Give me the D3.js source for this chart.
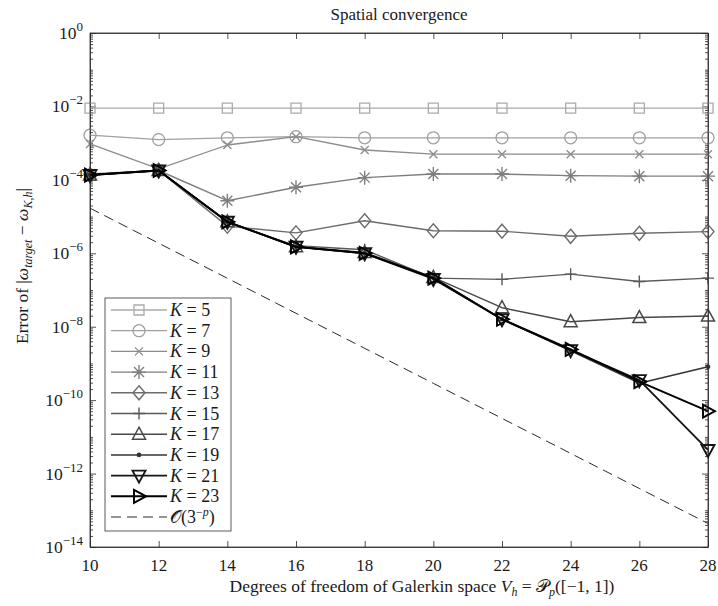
<!DOCTYPE html>
<html><head><meta charset="utf-8">
<script src="https://cdn.jsdelivr.net/npm/d3@7"></script>
<style>
body{margin:0;background:#fff}
text{font-family:"Liberation Serif","DejaVu Serif",serif;fill:#1a1a1a}
</style>
</head><body>
<svg id="c" width="718" height="606"></svg>
<script>
// ---- data ----
const dof = [10, 12, 14, 16, 18, 20, 22, 24, 26, 28];
const xTicks = [10, 12, 14, 16, 18, 20, 22, 24, 26, 28];
const yExponents = [0, -2, -4, -6, -8, -10, -12, -14];
const K5  = [9.0e-3, 9.0e-3, 9.0e-3, 9.0e-3, 9.0e-3, 9.0e-3, 9.0e-3, 9.0e-3, 9.0e-3, 9.0e-3];
const K7  = [1.65e-3, 1.25e-3, 1.4e-3, 1.5e-3, 1.4e-3, 1.4e-3, 1.4e-3, 1.4e-3, 1.4e-3, 1.4e-3];
const K9  = [9.5e-4, 2.0e-4, 8.9e-4, 1.5e-3, 6.5e-4, 5.0e-4, 5.0e-4, 5.0e-4, 5.0e-4, 5.0e-4];
const K11 = [1.45e-4, 1.8e-4, 2.7e-5, 6.3e-5, 1.15e-4, 1.44e-4, 1.44e-4, 1.3e-4, 1.26e-4, 1.26e-4];
const K13 = [1.35e-4, 1.8e-4, 5.5e-6, 3.6e-6, 7.7e-6, 4.1e-6, 4.0e-6, 2.9e-6, 3.5e-6, 3.9e-6];
const K15 = [1.35e-4, 1.8e-4, 7.2e-6, 1.6e-6, 1.25e-6, 2.1e-7, 1.95e-7, 2.7e-7, 1.7e-7, 2.1e-7];
const K17 = [1.35e-4, 1.8e-4, 7.2e-6, 1.5e-6, 1.05e-6, 2.2e-7, 3.3e-8, 1.37e-8, 1.77e-8, 1.95e-8];
const K19 = [1.35e-4, 1.8e-4, 7.2e-6, 1.5e-6, 1.0e-6, 2.2e-7, 1.6e-8, 2.2e-9, 2.9e-10, 8.1e-10];
const K21 = [1.35e-4, 1.8e-4, 7.2e-6, 1.5e-6, 1.0e-6, 2.0e-7, 1.6e-8, 2.3e-9, 3.5e-10, 4.4e-12];
const K23 = [1.35e-4, 1.8e-4, 7.2e-6, 1.5e-6, 1.0e-6, 2.1e-7, 1.6e-8, 2.4e-9, 3.2e-10, 5.0e-11];
const refRate = [1.69e-5, 1.88e-6, 2.09e-7, 2.32e-8, 2.58e-9, 2.87e-10, 3.19e-11, 3.54e-12, 3.93e-13, 4.37e-14];
const seriesLabels = ["5", "7", "9", "11", "13", "15", "17", "19", "21", "23"];

// ---- styles ----
const series = [
  {k: seriesLabels[0], v: K5,  c: "#aaaaaa", w: 1.3, m: "square"},
  {k: seriesLabels[1], v: K7,  c: "#a0a0a0", w: 1.3, m: "circle"},
  {k: seriesLabels[2], v: K9,  c: "#8c8c8c", w: 1.3, m: "x"},
  {k: seriesLabels[3], v: K11, c: "#7e7e7e", w: 1.4, m: "asterisk"},
  {k: seriesLabels[4], v: K13, c: "#6c6c6c", w: 1.4, m: "diamond"},
  {k: seriesLabels[5], v: K15, c: "#5a5a5a", w: 1.4, m: "plus"},
  {k: seriesLabels[6], v: K17, c: "#484848", w: 1.5, m: "triUp"},
  {k: seriesLabels[7], v: K19, c: "#333333", w: 1.5, m: "point"},
  {k: seriesLabels[8], v: K21, c: "#161616", w: 1.9, m: "triDown"},
  {k: seriesLabels[9], v: K23, c: "#000000", w: 1.9, m: "triRight"}
];

function markerPath(m) {
  switch (m) {
    case "square": return "M-5,-5H5V5H-5Z";
    case "circle": return "M6,0A6,6 0 1,1 -6,0A6,6 0 1,1 6,0Z";
    case "x": return "M-4,-4L4,4M-4,4L4,-4";
    case "asterisk": return "M-7,0H7M0,-7V7M-5,-5L5,5M-5,5L5,-5";
    case "diamond": return "M0,-7L6,0L0,7L-6,0Z";
    case "plus": return "M-6,0H6M0,-6V6";
    case "triUp": return "M0,-7L6.5,5H-6.5Z";
    case "point": return "M1.6,0A1.6,1.6 0 1,1 -1.6,0A1.6,1.6 0 1,1 1.6,0Z";
    case "triDown": return "M0,7L6.5,-5H-6.5Z";
    case "triRight": return "M7,0L-5,6.5V-6.5Z";
  }
}

const svg = d3.select("#c");
const L = 90, R = 708, T = 33, B = 547;
const x = d3.scaleLinear().domain([10, 28]).range([L, R]);
const y = d3.scaleLog().domain([1e-14, 1]).range([B, T]);
const axisColor = "#262626";

// minor ticks
const majors = yExponents.map(e => Math.pow(10, e));
const minors = [];
for (let e = -14; e < 0; e++) for (let k = 1; k <= 9; k++) {
  if (k === 1 && e % 2 === 0) continue;
  minors.push(k * Math.pow(10, e));
}

function styleAxis(g) {
  g.selectAll("path,line").attr("stroke", axisColor).attr("stroke-width", 0.8);
  g.selectAll("text").remove();
}
svg.append("g").attr("transform", `translate(0,${B})`)
  .call(d3.axisBottom(x).tickValues(xTicks).tickSizeInner(-6).tickSizeOuter(0)).call(styleAxis);
svg.append("g").attr("transform", `translate(0,${T})`)
  .call(d3.axisTop(x).tickValues(xTicks).tickSizeInner(-6).tickSizeOuter(0)).call(styleAxis);
svg.append("g").attr("transform", `translate(${L},0)`)
  .call(d3.axisLeft(y).tickValues(majors).tickSizeInner(-6).tickSizeOuter(0)).call(styleAxis);
svg.append("g").attr("transform", `translate(${R},0)`)
  .call(d3.axisRight(y).tickValues(majors).tickSizeInner(-6).tickSizeOuter(0)).call(styleAxis);
svg.append("g").attr("transform", `translate(${L},0)`)
  .call(d3.axisLeft(y).tickValues(minors).tickSizeInner(-3).tickSizeOuter(0)).call(styleAxis)
  .select(".domain").remove();
svg.append("g").attr("transform", `translate(${R},0)`)
  .call(d3.axisRight(y).tickValues(minors).tickSizeInner(-3).tickSizeOuter(0)).call(styleAxis)
  .select(".domain").remove();

// tick labels
svg.append("g").selectAll("text").data(xTicks).join("text")
  .attr("x", d => x(d)).attr("y", B + 24).attr("text-anchor", "middle")
  .attr("font-size", 17).text(d => d);
const yl = svg.append("g").selectAll("text").data(yExponents).join("text")
  .attr("x", L - 7).attr("y", d => y(Math.pow(10, d)) + 6).attr("text-anchor", "end")
  .attr("font-size", 17.5);
yl.append("tspan").text("10");
yl.append("tspan").attr("dy", -8).attr("font-size", 13).text(d => d === 0 ? "0" : "\u2212" + (-d));

// lines
const line = d3.line().x((d, i) => x(dof[i])).y(d => y(d));
svg.append("path").datum(refRate).attr("d", line).attr("fill", "none")
  .attr("stroke", "#111").attr("stroke-width", 0.9).attr("stroke-dasharray", "10,6");
series.forEach(s => {
  const g = svg.append("g");
  g.append("path").datum(s.v).attr("d", line).attr("fill", "none")
    .attr("stroke", s.c).attr("stroke-width", s.w).attr("stroke-linejoin", "round");
  g.selectAll("path.m").data(s.v).join("path").attr("class", "m")
    .attr("transform", (d, i) => `translate(${x(dof[i])},${y(d)})`)
    .attr("d", markerPath(s.m))
    .attr("fill", s.m === "point" ? s.c : "none")
    .attr("stroke", s.c).attr("stroke-width", s.w);
});

// box border on top
svg.append("rect").attr("x", L).attr("y", T).attr("width", R - L).attr("height", B - T)
  .attr("fill", "none").attr("stroke", axisColor).attr("stroke-width", 0.8);

// title & labels
svg.append("text").attr("x", (L + R) / 2).attr("y", 20).attr("text-anchor", "middle")
  .attr("font-size", 17).text("Spatial convergence");
const xl = svg.append("text").attr("x", 422).attr("y", 592).attr("text-anchor", "middle").attr("font-size", 17.5);
xl.append("tspan").text("Degrees of freedom of Galerkin space ");
xl.append("tspan").attr("font-style", "italic").text("V");
xl.append("tspan").attr("font-style", "italic").attr("font-size", 12).attr("dy", 4).text("h");
xl.append("tspan").attr("dy", -4).text(" = ");
xl.append("tspan").text("\u{1D4AB}");
xl.append("tspan").attr("font-style", "italic").attr("font-size", 12).attr("dy", 4).text("p");
xl.append("tspan").attr("dy", -4).text("([\u22121, 1])");

const ylab = svg.append("text").attr("transform", `translate(28,266) rotate(-90)`)
  .attr("text-anchor", "middle").attr("font-size", 17.5);
ylab.append("tspan").text("Error of |");
ylab.append("tspan").attr("font-style", "italic").text("\u03C9");
ylab.append("tspan").attr("font-style", "italic").attr("font-size", 12).attr("dy", 4).text("target");
ylab.append("tspan").attr("dy", -4).text(" \u2212 ");
ylab.append("tspan").attr("font-style", "italic").text("\u03C9");
ylab.append("tspan").attr("font-style", "italic").attr("font-size", 12).attr("dy", 4).text("K,h");
ylab.append("tspan").attr("dy", -4).text("|");

// legend
const lg = svg.append("g");
lg.append("rect").attr("x", 105).attr("y", 298).attr("width", 126).attr("height", 233)
  .attr("fill", "#fff").attr("stroke", "#333").attr("stroke-width", 0.8);
const rowY = i => 310 + i * 20.7;
series.forEach((s, i) => {
  const yy = rowY(i);
  lg.append("line").attr("x1", 111).attr("x2", 167).attr("y1", yy).attr("y2", yy)
    .attr("stroke", s.c).attr("stroke-width", s.w);
  lg.append("path").attr("transform", `translate(139,${yy})`).attr("d", markerPath(s.m))
    .attr("fill", s.m === "point" ? s.c : "none").attr("stroke", s.c).attr("stroke-width", s.w);
  const t = lg.append("text").attr("x", 170).attr("y", yy + 6).attr("font-size", 18);
  t.append("tspan").attr("font-style", "italic").text("K");
  t.append("tspan").text(" = " + s.k);
});
{
  const yy = rowY(10);
  lg.append("line").attr("x1", 111).attr("x2", 167).attr("y1", yy).attr("y2", yy)
    .attr("stroke", "#111").attr("stroke-width", 0.9).attr("stroke-dasharray", "10,6");
  const t = lg.append("text").attr("x", 170).attr("y", yy + 6).attr("font-size", 18);
  t.append("tspan").text("\u{1D4AA}(3");
  t.append("tspan").attr("dy", -7).attr("font-size", 12).text("\u2212");
  t.append("tspan").attr("font-size", 12).attr("font-style", "italic").text("p");
  t.append("tspan").attr("dy", 7).text(")");
}
</script>
</body></html>
